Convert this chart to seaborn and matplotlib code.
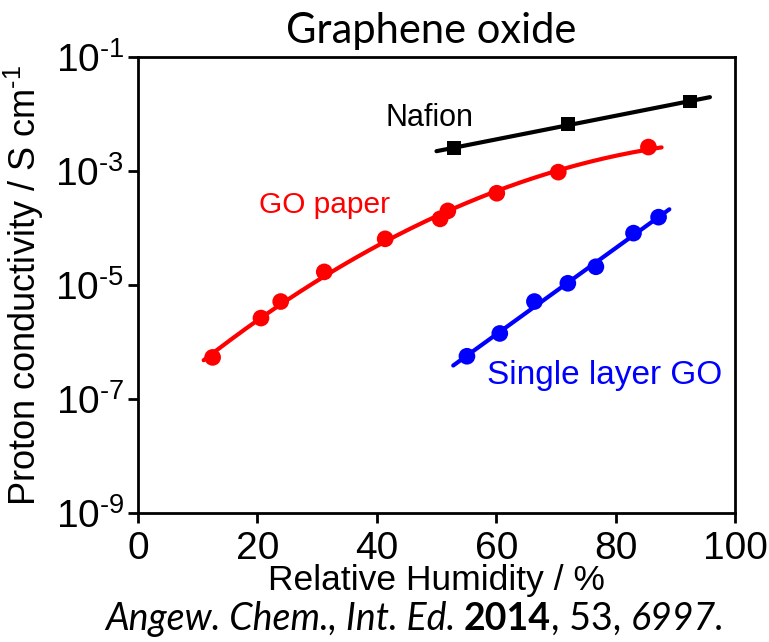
import numpy as np
import pandas as pd
import matplotlib
matplotlib.use("Agg")
import matplotlib.pyplot as plt
import matplotlib.ticker as mticker
import seaborn as sns

# values (RH in %, conductivity in S/cm)
go_paper_rh = [12.5, 20.6, 23.9, 31.2, 41.4, 50.6, 51.9, 60.1, 70.4, 85.5]
go_paper_sigma = [10**-6.27, 10**-5.58, 10**-5.29, 10**-4.77, 10**-4.19,
                  10**-3.84, 10**-3.70, 10**-3.39, 10**-3.02, 10**-2.58]

single_rh = [55.1, 60.6, 66.4, 72.0, 76.7, 83.0, 87.2]
single_sigma = [10**-6.25, 10**-5.85, 10**-5.29, 10**-4.97, 10**-4.68,
                10**-4.09, 10**-3.81]

nafion_rh = [52.9, 72.1, 92.5]
nafion_sigma = [10**-2.60, 10**-2.18, 10**-1.78]

# range covered by each fitted trend line
go_paper_span = (11.0, 87.7)
single_span = (52.8, 89.0)
nafion_span = (50.0, 95.8)

y_ticks = [1e-9, 1e-7, 1e-5, 1e-3, 1e-1]
x_ticks = [0, 20, 40, 60, 80, 100]

sns.set_style("ticks")
plt.rcParams["font.family"] = ["Liberation Sans", "DejaVu Sans"]
plt.rcParams["mathtext.fontset"] = "custom"
plt.rcParams["mathtext.rm"] = "Liberation Sans"
plt.rcParams["mathtext.default"] = "regular"
plt.rcParams["text.color"] = "black"
plt.rcParams["axes.labelcolor"] = "black"


def trend(rh, sigma, span, deg):
    # fit in log space, as the original smooth guide lines
    coef = np.polyfit(rh, np.log10(sigma), deg)
    xs = np.linspace(span[0], span[1], 200)
    return pd.DataFrame({"rh": xs, "sigma": 10 ** np.polyval(coef, xs)})


fig = plt.figure(figsize=(7.69, 6.42), dpi=100)
ax = fig.add_axes([138 / 769, 1 - 513 / 642, 597 / 769, 456 / 642])

series = [
    (nafion_rh, nafion_sigma, nafion_span, 1, "black", "s", 10),
    (go_paper_rh, go_paper_sigma, go_paper_span, 2, "#ff0000", "o", 12),
    (single_rh, single_sigma, single_span, 1, "#0000ff", "o", 12),
]
for rh, sig, span, deg, col, mk, ms in series:
    fit = trend(rh, sig, span, deg)
    sns.lineplot(data=fit, x="rh", y="sigma", color=col, lw=3, ax=ax)
    pts = pd.DataFrame({"rh": rh, "sigma": sig})
    sns.scatterplot(data=pts, x="rh", y="sigma", color=col, marker=mk,
                    s=ms ** 2, edgecolor="none", ax=ax, zorder=3)

ax.set_yscale("log")
ax.set_xlim(0, 100)
ax.set_ylim(1e-9, 1e-1)
ax.xaxis.set_major_locator(mticker.FixedLocator(x_ticks))
ax.yaxis.set_major_locator(mticker.FixedLocator(y_ticks))
ax.yaxis.set_minor_locator(mticker.NullLocator())
ax.yaxis.set_major_formatter(mticker.FuncFormatter(
    lambda v, p: "$10^{\u2010%d}$" % abs(round(np.log10(v)))))
ax.tick_params(axis="both", direction="out", length=7, width=2,
               labelsize=28, colors="black")
ax.tick_params(axis="x", pad=6)
ax.tick_params(axis="y", pad=3)
for s in ax.spines.values():
    s.set_linewidth(2)
    s.set_color("black")

ax.set_xlabel("Relative Humidity / %", fontsize=25.5, labelpad=-2)
ax.set_ylabel("Proton conductivity / S cm$^{\u20101}$", fontsize=26)
ax.yaxis.set_label_coords(-92 / 597, 0.5)

ax.text(48.9, 10**-2.07, "Nafion", fontsize=22, color="black", ha="center",
        va="center")
ax.text(31.2, 10**-3.60, "GO paper", fontsize=21.5, color="#ff0000",
        ha="center", va="center")
ax.text(78.2, 10**-6.58, "Single layer GO", fontsize=24, color="#0000ff",
        ha="center", va="center")

fig.text(431 / 769, 1 - 31 / 642, "Graphene oxide", fontsize=30,
         family="Lato", ha="center", va="center")

# citation line, built from pieces in different styles
pieces = [("Angew. Chem., Int. Ed. ", "italic", "normal"),
          ("2014", "normal", "bold"),
          (", 53, ", "normal", "normal"),
          ("6997.", "italic", "normal")]
fig.canvas.draw()
renderer = fig.canvas.get_renderer()
texts = []
for txt, style, weight in pieces:
    t = fig.text(0, 1 - 619 / 642, txt, fontsize=27, family="Lato",
                 style=style, weight=weight, ha="left", va="center")
    texts.append(t)
widths = [t.get_window_extent(renderer).width for t in texts]
x0 = 415 - sum(widths) / 2
for t, w in zip(texts, widths):
    t.set_x(x0 / 769)
    x0 += w

fig.savefig("out.png", dpi=100)
